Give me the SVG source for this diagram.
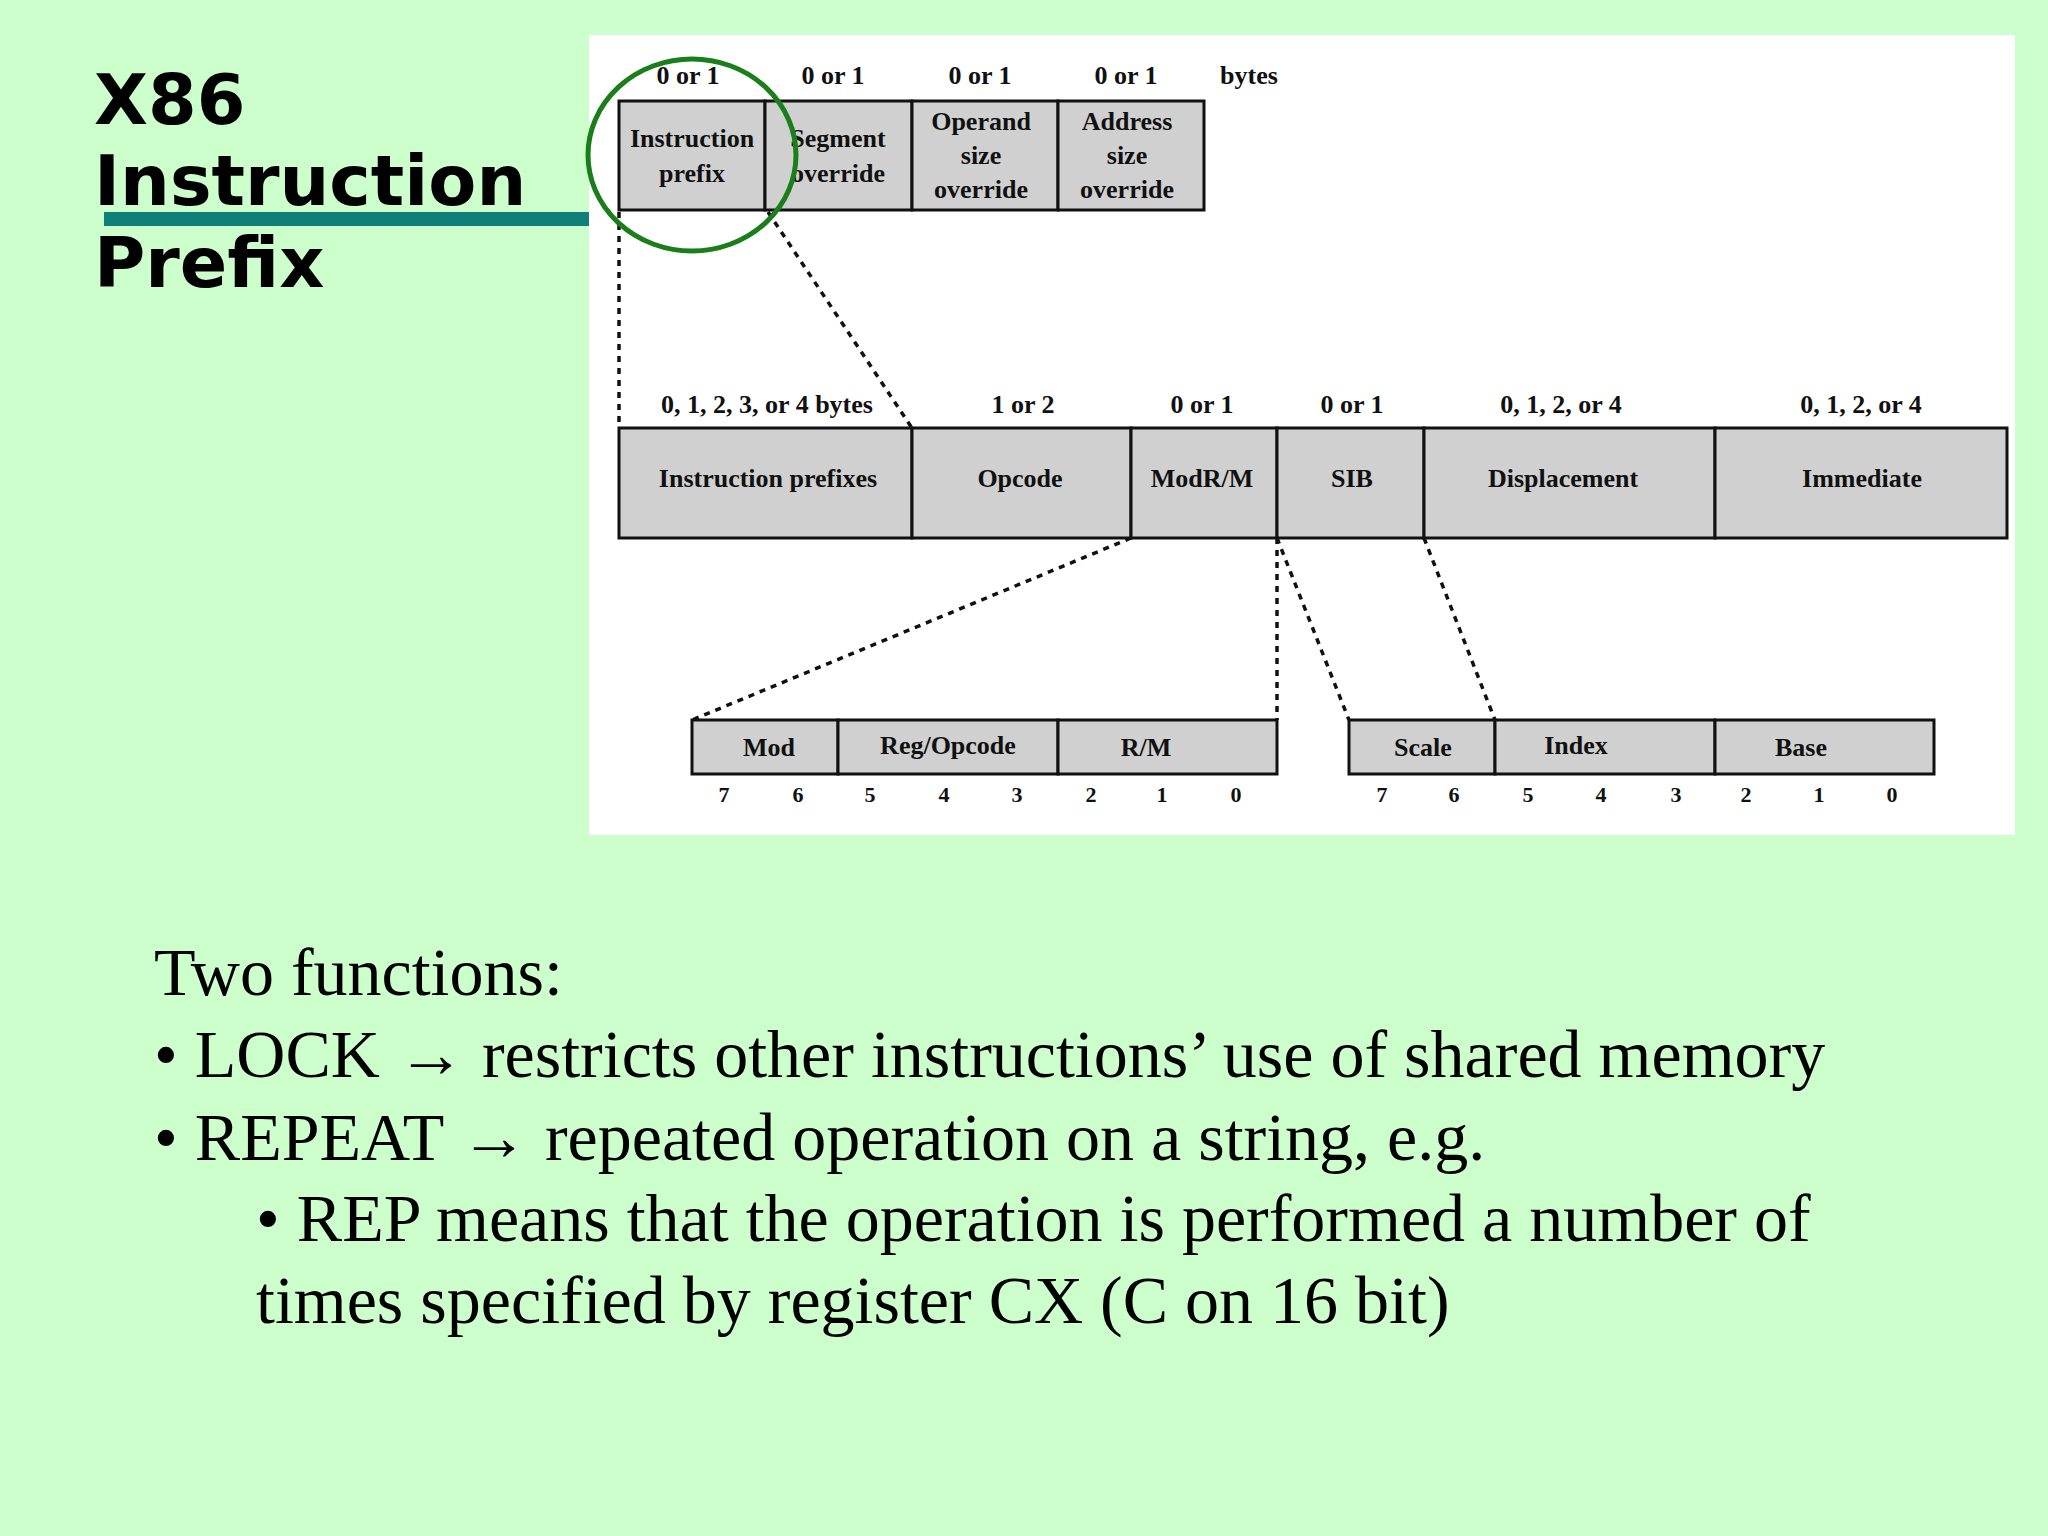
<svg xmlns="http://www.w3.org/2000/svg" width="2048" height="1536" viewBox="0 0 2048 1536">
<style>
.b{fill:#d0d0d0;stroke:#111;stroke-width:3}
.t{font-family:"Liberation Serif",serif;font-weight:bold;font-size:26px;fill:#111;text-anchor:middle}
.s{font-family:"Liberation Serif",serif;font-weight:bold;font-size:22px;fill:#111;text-anchor:middle}
.d{stroke:#111;stroke-width:3.5;stroke-dasharray:6 6;fill:none}
.h{font-family:"DejaVu Sans",sans-serif;font-weight:bold;font-size:70px;fill:#000}
.p{font-family:"Liberation Serif",serif;font-size:68px;fill:#000}
</style>
<rect width="2048" height="1536" fill="#ccffcc"/>
<rect x="589" y="35" width="1426" height="800" fill="#fff"/>
<rect x="104" y="212" width="485" height="14" fill="#0f7f7a"/>
<g id="title">
<text class="h" x="94" y="124">X86</text>
<text class="h" x="94" y="205">Instruction</text>
<text class="h" x="94" y="287">Prefix</text>
</g>
<g id="top-row">
<text class="t" x="688" y="84">0 or 1</text><text class="t" x="833" y="84">0 or 1</text><text class="t" x="980" y="84">0 or 1</text><text class="t" x="1126" y="84">0 or 1</text><text class="t" x="1249" y="84">bytes</text>
<rect class="b" x="619" y="101" width="146" height="109"/>
<rect class="b" x="765" y="101" width="147" height="109"/>
<rect class="b" x="912" y="101" width="146" height="109"/>
<rect class="b" x="1058" y="101" width="146" height="109"/>
<text class="t" x="692" y="147">Instruction</text><text class="t" x="692" y="182">prefix</text>
<text class="t" x="838" y="147">Segment</text><text class="t" x="838" y="182">override</text>
<text class="t" x="981" y="130">Operand</text><text class="t" x="981" y="164">size</text><text class="t" x="981" y="198">override</text>
<text class="t" x="1127" y="130">Address</text><text class="t" x="1127" y="164">size</text><text class="t" x="1127" y="198">override</text>
</g>
<g id="middle-row">
<text class="t" x="767" y="413">0, 1, 2, 3, or 4 bytes</text><text class="t" x="1023" y="413">1 or 2</text><text class="t" x="1202" y="413">0 or 1</text><text class="t" x="1352" y="413">0 or 1</text><text class="t" x="1561" y="413">0, 1, 2, or 4</text><text class="t" x="1861" y="413">0, 1, 2, or 4</text>
<rect class="b" x="619" y="428" width="293" height="110"/>
<rect class="b" x="912" y="428" width="219" height="110"/>
<rect class="b" x="1131" y="428" width="146" height="110"/>
<rect class="b" x="1277" y="428" width="147" height="110"/>
<rect class="b" x="1424" y="428" width="291" height="110"/>
<rect class="b" x="1715" y="428" width="292" height="110"/>
<text class="t" x="768" y="487">Instruction prefixes</text><text class="t" x="1020" y="487">Opcode</text><text class="t" x="1202" y="487">ModR/M</text><text class="t" x="1352" y="487">SIB</text><text class="t" x="1563" y="487">Displacement</text><text class="t" x="1862" y="487">Immediate</text>
</g>
<g id="modrm">
<rect class="b" x="692" y="720" width="146" height="54"/>
<rect class="b" x="838" y="720" width="220" height="54"/>
<rect class="b" x="1058" y="720" width="219" height="54"/>
<text class="t" x="769" y="756">Mod</text><text class="t" x="948" y="754">Reg/Opcode</text><text class="t" x="1146" y="756">R/M</text>
<text class="s" x="724" y="802">7</text><text class="s" x="798" y="802">6</text><text class="s" x="870" y="802">5</text><text class="s" x="944" y="802">4</text><text class="s" x="1017" y="802">3</text><text class="s" x="1091" y="802">2</text><text class="s" x="1162" y="802">1</text><text class="s" x="1236" y="802">0</text>
</g>
<g id="sib">
<rect class="b" x="1349" y="720" width="146" height="54"/>
<rect class="b" x="1495" y="720" width="220" height="54"/>
<rect class="b" x="1715" y="720" width="219" height="54"/>
<text class="t" x="1423" y="756">Scale</text><text class="t" x="1576" y="754">Index</text><text class="t" x="1801" y="756">Base</text>
<text class="s" x="1382" y="802">7</text><text class="s" x="1454" y="802">6</text><text class="s" x="1528" y="802">5</text><text class="s" x="1601" y="802">4</text><text class="s" x="1676" y="802">3</text><text class="s" x="1746" y="802">2</text><text class="s" x="1819" y="802">1</text><text class="s" x="1892" y="802">0</text>
</g>
<g id="connectors">
<path class="d" d="M619 212V428M768 212L912 428M1131 538L692 720M1277 538V720M1277 538L1349 720M1424 538L1495 720"/>
</g>
<ellipse cx="692" cy="155" rx="104" ry="96" fill="none" stroke="#1a7f1a" stroke-width="5"/>
<g id="body">
<text class="p" x="154" y="995">Two functions:</text>
<text class="p" x="154" y="1077">• LOCK → restricts other instructions’ use of shared memory</text>
<text class="p" x="154" y="1160">• REPEAT → repeated operation on a string, e.g.</text>
<text class="p" x="256" y="1241">• REP means that the operation is performed a number of</text>
<text class="p" x="256" y="1323">times specified by register CX (C on 16 bit)</text>
</g>
</svg>
